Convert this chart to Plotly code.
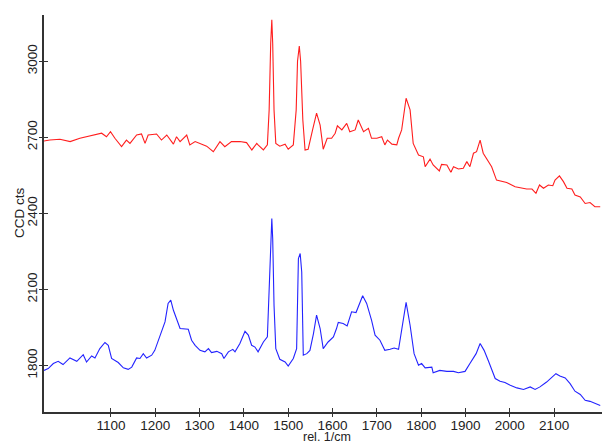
import plotly.graph_objects as go

# Red spectrum (upper)
red_x = [949, 962, 985, 1008, 1030, 1053, 1079, 1090, 1099, 1109, 1124, 1135, 1143, 1158, 1169, 1177,
         1184, 1203, 1214, 1226, 1241, 1248, 1256, 1271, 1278, 1290, 1301, 1316, 1331, 1346, 1357, 1372,
         1391, 1406, 1418, 1429, 1432, 1444, 1453, 1457, 1460.5, 1463, 1465, 1468, 1472, 1481, 1493, 1500,
         1511.5, 1518, 1521, 1525, 1528, 1533, 1538, 1545, 1555, 1564, 1572, 1579, 1588, 1598, 1606, 1611,
         1621, 1632, 1639, 1651, 1658, 1670, 1681, 1688, 1700, 1711, 1718, 1724, 1734, 1745, 1749, 1756,
         1766, 1775, 1782, 1794, 1805, 1809, 1820, 1827, 1841, 1846, 1858, 1867, 1873, 1884, 1895, 1903,
         1910, 1918, 1925, 1933, 1940, 1952, 1959, 1970, 1993, 2012, 2027, 2038, 2050, 2059, 2067, 2076,
         2087, 2097, 2102, 2112, 2121, 2129, 2140, 2147, 2159, 2170, 2181, 2192, 2204]
red_y = [2685, 2689, 2692, 2683, 2696, 2705, 2716, 2702, 2722, 2696, 2663, 2689, 2676, 2709, 2713, 2676,
         2709, 2713, 2689, 2709, 2673, 2702, 2683, 2709, 2670, 2683, 2676, 2665, 2643, 2683, 2663, 2683,
         2683, 2679, 2650, 2676, 2670, 2650, 2670, 2808, 3071, 3163, 3071, 2808, 2676, 2665, 2673, 2653,
         2670, 2808, 3000, 3060, 3000, 2768, 2650, 2653, 2729, 2795, 2748, 2653, 2696, 2696, 2716, 2745,
         2729, 2755, 2722, 2729, 2768, 2722, 2735, 2696, 2696, 2702, 2670, 2689, 2673, 2670, 2696, 2729,
         2854, 2808, 2676, 2630, 2623, 2584, 2614, 2591, 2567, 2593, 2591, 2562, 2584, 2575, 2578, 2604,
         2584, 2637, 2643, 2689, 2637, 2601, 2584, 2531, 2522, 2505, 2499, 2496, 2496, 2479, 2512, 2499,
         2512, 2509, 2531, 2548, 2525, 2499, 2496, 2472, 2465, 2439, 2443, 2426, 2426]

# Blue spectrum (lower)
blue_x = [949, 958.5, 970, 981, 992, 1007.5, 1023, 1037.5, 1045, 1056.5, 1064, 1075, 1086.5, 1094, 1101.5,
          1116.5, 1128, 1139, 1147, 1158, 1165.5, 1173, 1180.5, 1192, 1199, 1211, 1222, 1229, 1235, 1241,
          1250, 1256, 1274.5, 1282, 1290, 1301, 1312, 1320, 1327, 1339, 1350, 1355, 1365, 1375, 1380, 1391,
          1402.5, 1410, 1417.5, 1425, 1432, 1444, 1453, 1457, 1460.5, 1463, 1465, 1468, 1472, 1481, 1493,
          1500, 1511.5, 1519, 1523, 1527, 1530.5, 1534, 1542, 1549, 1557, 1564, 1572, 1579, 1590, 1602,
          1609, 1613, 1624, 1633, 1643, 1653, 1668, 1677, 1688, 1696, 1707, 1718, 1730, 1739, 1749, 1758,
          1766, 1775, 1784, 1794, 1801, 1809, 1824, 1827, 1842, 1858, 1873, 1884, 1899, 1910, 1924, 1933,
          1942, 1952, 1967, 1978, 1989, 2001, 2016, 2031, 2046, 2057, 2068, 2083, 2097, 2104, 2113, 2125,
          2136, 2147, 2159, 2170, 2181, 2192, 2204]
blue_y = [1781, 1788, 1808, 1817, 1804, 1830, 1817, 1843, 1814, 1838, 1830, 1867, 1891, 1880, 1828,
          1812, 1791, 1785, 1794, 1830, 1828, 1847, 1830, 1841, 1860, 1922, 1972, 2045, 2058, 2018,
          1972, 1946, 1943, 1900, 1880, 1860, 1854, 1867, 1851, 1856, 1847, 1828, 1854, 1864, 1854, 1887,
          1935, 1920, 1880, 1873, 1854, 1893, 1913, 2104, 2327, 2380, 2301, 2038, 1867, 1825, 1814,
          1798, 1828, 1867, 2222, 2242, 2169, 1841, 1847, 1860, 1926, 1999, 1946, 1867, 1893, 1913,
          1946, 1970, 1966, 1956, 2012, 2009, 2075, 2045, 1979, 1920, 1900, 1860, 1864, 1869, 1864, 1959,
          2049, 1959, 1847, 1801, 1808, 1791, 1794, 1772, 1781, 1777, 1777, 1772, 1777, 1808, 1847, 1887,
          1860, 1817, 1749, 1738, 1733, 1722, 1712, 1706, 1716, 1706, 1716, 1735, 1755, 1768, 1759, 1751,
          1729, 1699, 1686, 1663, 1659, 1650, 1643]

x_ticks = [1100, 1200, 1300, 1400, 1500, 1600, 1700, 1800, 1900, 2000, 2100]
y_ticks = [1800, 2100, 2400, 2700, 3000]
x_range = [949, 2208]
y_range = [1617, 3182]
x_title = "rel. 1/cm"
y_title = "CCD cts"

font = dict(family="Liberation Sans, Arial, sans-serif", size=13.5, color="#222")
xtitle_font = dict(family="Liberation Sans, Arial, sans-serif", size=12.5, color="#222")

fig = go.Figure()
fig.add_trace(go.Scatter(x=red_x, y=red_y, mode="lines",
                         line=dict(color="rgb(255,30,30)", width=1.1), showlegend=False))
fig.add_trace(go.Scatter(x=blue_x, y=blue_y, mode="lines",
                         line=dict(color="rgb(35,35,255)", width=1.1), showlegend=False))
# invisible trace to anchor the outer-tick overlay axes
fig.add_trace(go.Scatter(x=[x_range[0]], y=[y_range[0]], xaxis="x2", yaxis="y2",
                         mode="markers", marker=dict(opacity=0), showlegend=False, hoverinfo="skip"))

axis_common = dict(showgrid=False, zeroline=False, showline=True, linecolor="#333", linewidth=1.5,
                   tickcolor="#333", tickwidth=1.3, ticklen=4, tickfont=font, automargin=False)
overlay_common = dict(showticklabels=False, showgrid=False, zeroline=False, showline=False,
                      tickcolor="#333", tickwidth=1.3, ticklen=4, ticks="outside")

fig.update_layout(
    width=602, height=444,
    margin=dict(l=44, r=0, t=15, b=32),
    paper_bgcolor="white", plot_bgcolor="white",
    font=font,
    xaxis=dict(range=x_range, tickvals=x_ticks, ticks="inside", **axis_common),
    yaxis=dict(range=y_range, tickvals=y_ticks, ticks="inside", tickangle=-90, **axis_common),
    xaxis2=dict(range=x_range, tickvals=x_ticks, overlaying="x", anchor="y", **overlay_common),
    yaxis2=dict(range=y_range, tickvals=y_ticks, overlaying="y", anchor="x", **overlay_common),
    annotations=[
        dict(text=x_title, xref="paper", yref="paper", x=0.508, y=-0.063,
             xanchor="center", yanchor="middle", showarrow=False, font=xtitle_font),
        dict(text=y_title, xref="paper", yref="paper", x=-0.0448, y=0.501, textangle=-90,
             xanchor="center", yanchor="middle", showarrow=False, font=font),
    ],
)

fig.write_html("out.html", config={"displayModeBar": False},
               post_script="document.body.style.margin='0';document.body.style.overflow='hidden';")
